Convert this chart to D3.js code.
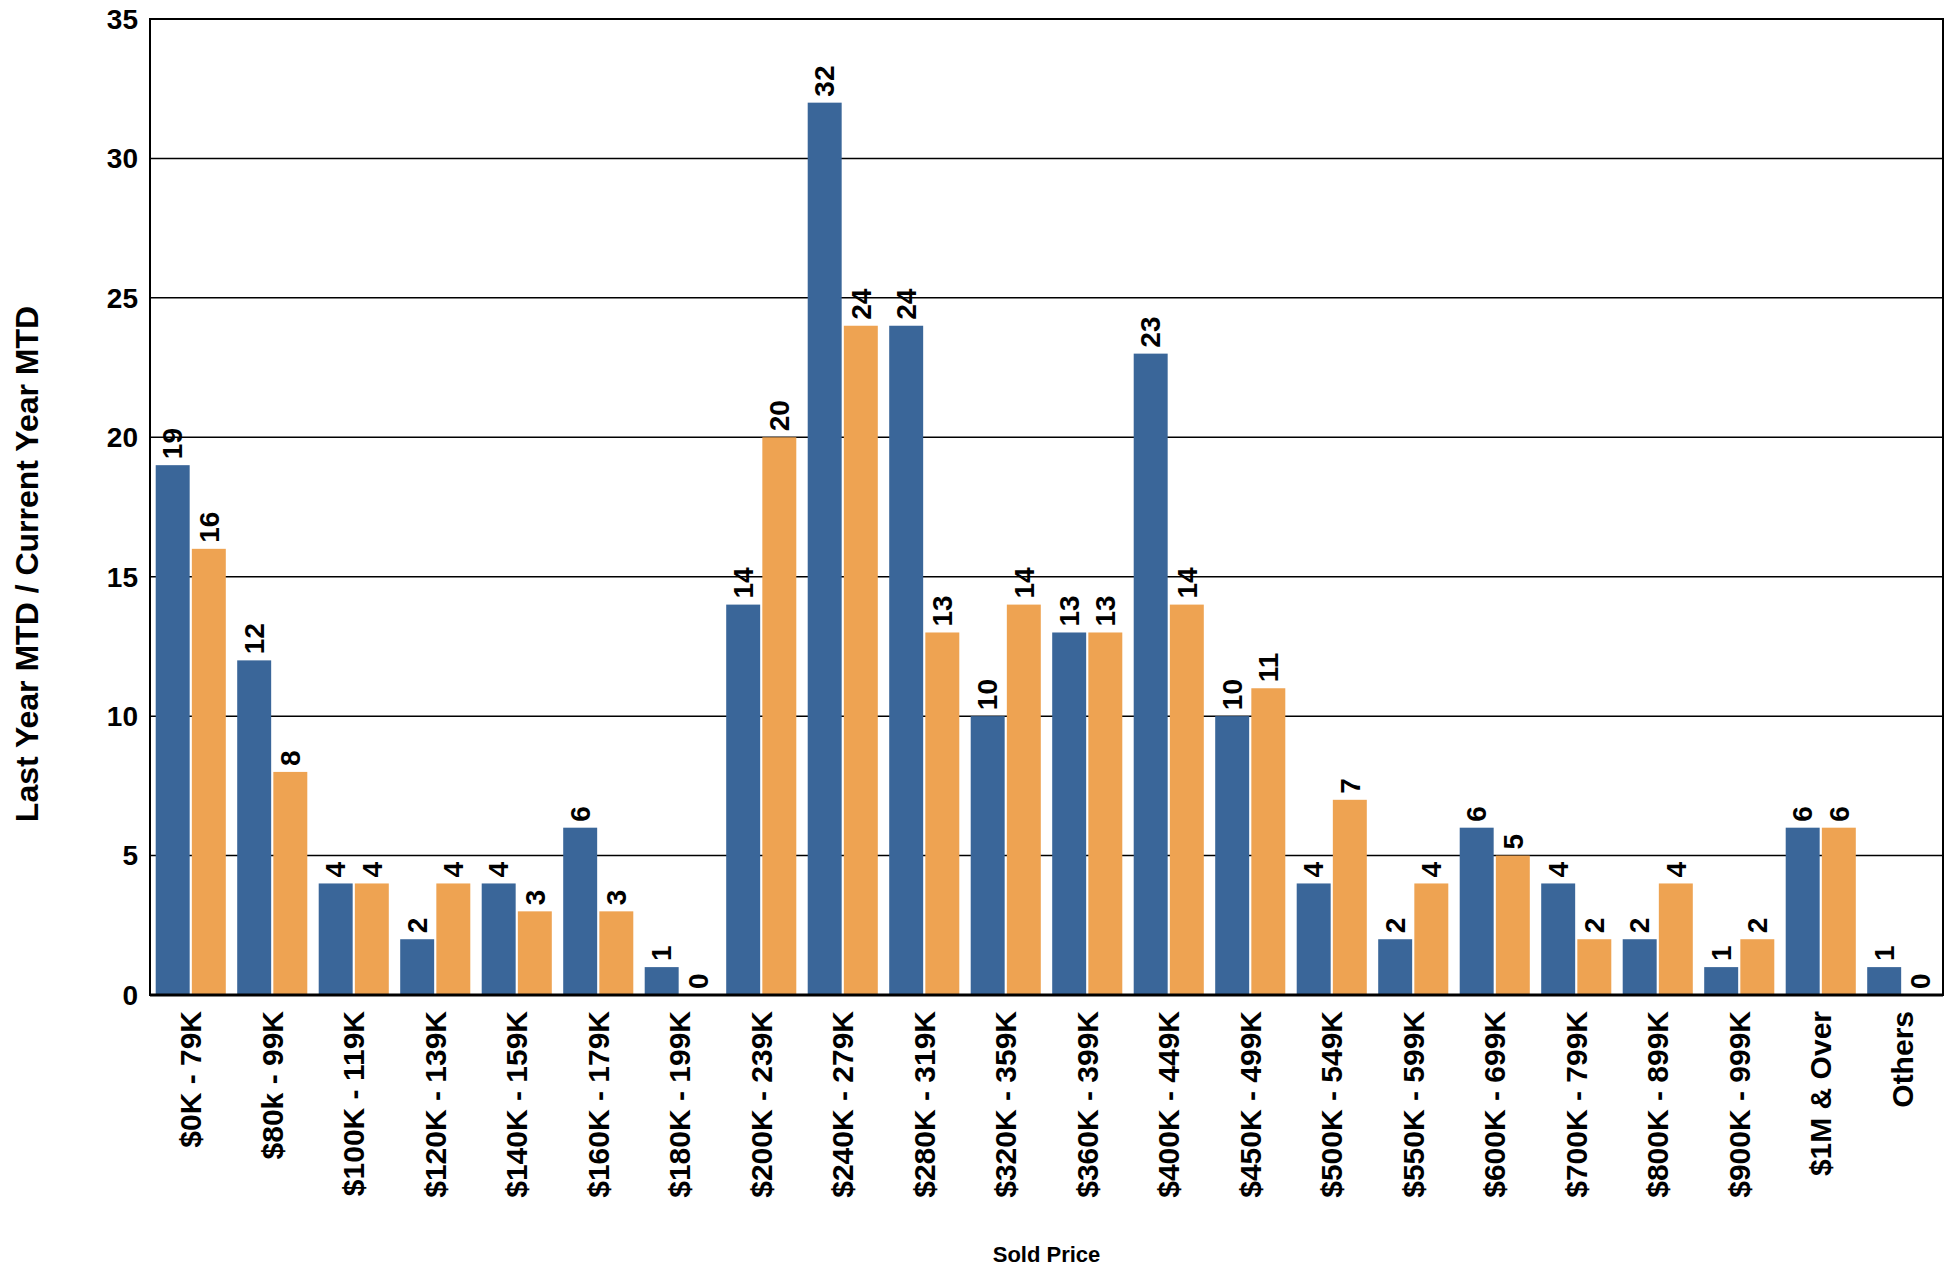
<!DOCTYPE html><html><head><meta charset="utf-8"><script src="https://cdn.jsdelivr.net/npm/d3@7"></script>
<style>body{margin:0;background:#fff}text{font-family:"Liberation Sans",Arial,sans-serif;font-weight:bold}</style></head><body>
<svg id="c" width="1955" height="1269"></svg>
<script>
const categories=["$0K - 79K","$80k - 99K","$100K - 119K","$120K - 139K","$140K - 159K","$160K - 179K","$180K - 199K","$200K - 239K","$240K - 279K","$280K - 319K","$320K - 359K","$360K - 399K","$400K - 449K","$450K - 499K","$500K - 549K","$550K - 599K","$600K - 699K","$700K - 799K","$800K - 899K","$900K - 999K","$1M & Over","Others"];
const lastYear=[19,12,4,2,4,6,1,14,32,24,10,13,23,10,4,2,6,4,2,1,6,1];
const currentYear=[16,8,4,4,3,3,0,20,24,13,14,13,14,11,7,4,5,2,4,2,6,0];
const yTicks=[0,5,10,15,20,25,30,35];
const svg=d3.select("#c");
const L=150,R=1943,T=19,B=995;
const x=d3.scaleBand().domain(categories).range([L,R]).paddingInner(0.14).paddingOuter(0.07);
const x2=d3.scaleBand().domain(["a","b"]).range([0,x.bandwidth()]).paddingInner(0.06);
const y=d3.scaleLinear().domain([0,35]).range([B,T]);
const g=svg.append("g");
yTicks.forEach(t=>{g.append("line").attr("x1",L).attr("x2",R).attr("y1",y(t)).attr("y2",y(t)).attr("stroke","#000").attr("stroke-width",1.5);
g.append("text").attr("x",L-12).attr("y",y(t)).attr("dy","0.35em").attr("text-anchor","end").attr("font-size",28).text(t);});
const series=[[lastYear,"a","#3a6699"],[currentYear,"b","#eea352"]];
series.forEach(([vals,k,col])=>{
 categories.forEach((c,i)=>{const v=vals[i];const bx=x(c)+x2(k);
  g.append("rect").attr("x",bx).attr("y",y(v)).attr("width",x2.bandwidth()).attr("height",B-y(v)).attr("fill",col);
  g.append("text").attr("transform",`translate(${bx+x2.bandwidth()/2},${y(v)-6}) rotate(-90)`).attr("dy","0.35em").attr("font-size",28).text(v);
 });
});
g.append("rect").attr("x",L).attr("y",T).attr("width",R-L).attr("height",B-T).attr("fill","none").attr("stroke","#000").attr("stroke-width",2);
g.append("line").attr("x1",L).attr("x2",R).attr("y1",B).attr("y2",B).attr("stroke","#000").attr("stroke-width",3);
categories.forEach(c=>{g.append("text").attr("transform",`translate(${x(c)+x.bandwidth()/2},${B+16}) rotate(-90)`).attr("dy","0.35em").attr("text-anchor","end").attr("font-size",30).text(c);});
svg.append("text").attr("transform",`translate(27,564) rotate(-90)`).attr("dy","0.35em").attr("text-anchor","middle").attr("font-size",32).text("Last Year MTD / Current Year MTD");
svg.append("text").attr("x",(L+R)/2).attr("y",1262).attr("text-anchor","middle").attr("font-size",22).text("Sold Price");
</script></body></html>
